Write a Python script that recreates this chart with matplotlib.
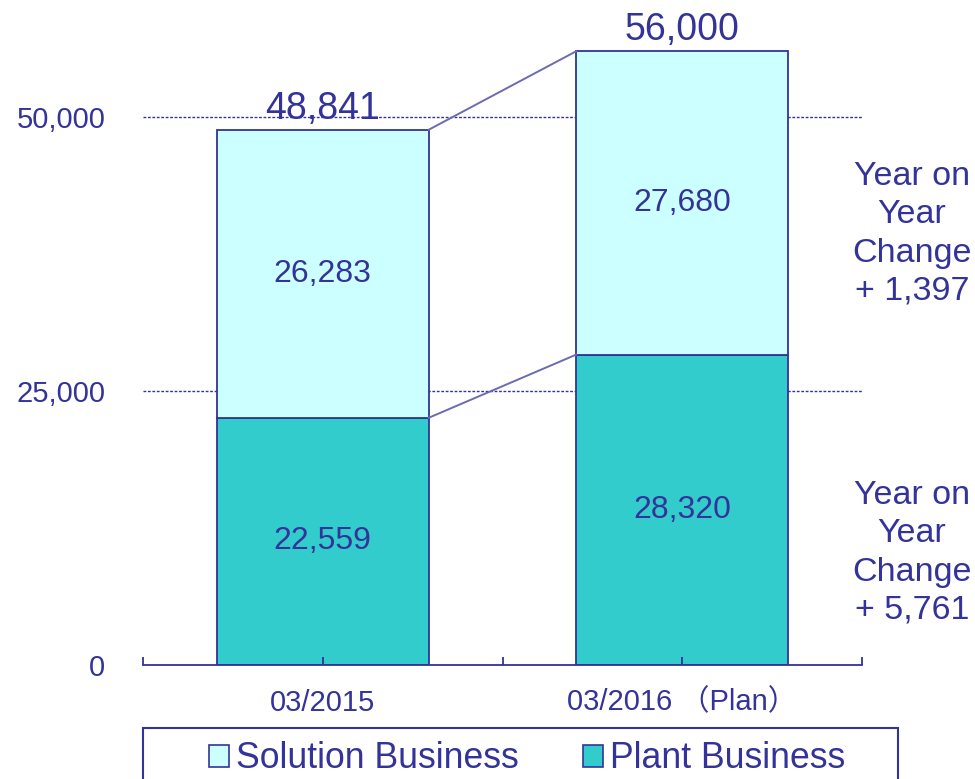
import matplotlib.pyplot as plt
from matplotlib.patches import Rectangle, Patch

categories = ['03/2015', '03/2016 （Plan）']
plant = [22559, 28320]
solution = [26283, 27680]
totals = [48841, 56000]
yoy_solution = '+ 1,397'
yoy_plant = '+ 5,761'

NAVY = '#333399'
PLANT_C = '#33CCCC'
SOL_C = '#CCFFFF'
LINE_C = '#6b6bb0'
FONT = ['Liberation Sans', 'Noto Sans CJK JP', 'DejaVu Sans']

plt.rcParams['font.family'] = FONT

fig = plt.figure(figsize=(9.75, 7.79), dpi=100)
ax = fig.add_axes([143 / 975, 1 - 665 / 779, (862 - 143) / 975, (665 - 7.4) / 779])
ax.set_axisbelow(False)

x = list(range(len(categories)))
w = 0.59

# grid lines behind bars
for gy in [25000, 50000]:
    ax.axhline(gy, color=NAVY, lw=1.0, ls=(0, (2, 1.2)), zorder=0)

ax.bar(x, plant, w, color=PLANT_C, edgecolor=NAVY, lw=1.3, zorder=2)
ax.bar(x, solution, w, bottom=plant, color=SOL_C, edgecolor=NAVY, lw=1.3, zorder=2)

# connecting lines between bars
ax.plot([x[0] + w / 2, x[1] - w / 2], [totals[0], totals[1]], color=LINE_C, lw=1.4, zorder=3)
ax.plot([x[0] + w / 2, x[1] - w / 2], [plant[0], plant[1]], color=LINE_C, lw=1.4, zorder=3)

for i in x:
    ax.text(i, plant[i] / 2, f'{plant[i]:,}', ha='center', va='center', fontsize=23, color=NAVY, zorder=4)
    ax.text(i, plant[i] + solution[i] / 2, f'{solution[i]:,}', ha='center', va='center', fontsize=23, color=NAVY, zorder=4)
    ax.annotate(f'{totals[i]:,}', (i, totals[i]), xytext=(0, 2), textcoords='offset points',
                ha='center', va='bottom', fontsize=27, color=NAVY)

ax.set_xlim(-0.5, 1.5)
ax.set_ylim(0, 60000)
ax.set_yticks([0, 25000, 50000])
ax.set_yticklabels(['0', '25,000', '50,000'])
ax.tick_params(axis='y', length=0, pad=27, labelsize=21, labelcolor=NAVY)
ax.set_xticks(x)
ax.set_xticklabels(categories)
ax.set_xticks([-0.5, 0.5, 1.5], minor=True)
ax.tick_params(axis='x', which='both', direction='in', length=6, width=1.3, color=NAVY,
               pad=17, labelsize=21, labelcolor=NAVY)

for s in ['top', 'right', 'left']:
    ax.spines[s].set_visible(False)
ax.spines['bottom'].set_color(NAVY)
ax.spines['bottom'].set_linewidth(1.3)
ax.patch.set_alpha(0)

# year on year change notes
fig.text(912 / 975, 1 - 234 / 779, 'Year on\nYear\nChange\n' + yoy_solution, ha='center', va='center',
         fontsize=24.5, color=NAVY, linespacing=1.3)
fig.text(912 / 975, 1 - 553 / 779, 'Year on\nYear\nChange\n' + yoy_plant, ha='center', va='center',
         fontsize=24.5, color=NAVY, linespacing=1.3)

# legend
handles = [Patch(facecolor=SOL_C, edgecolor=NAVY, lw=1.2), Patch(facecolor=PLANT_C, edgecolor=NAVY, lw=1.2)]
fig.legend(handles, ['Solution Business', 'Plant Business'], loc='center', ncol=2,
           bbox_to_anchor=(527 / 975, 1 - 759 / 779), frameon=False, fontsize=25.7,
           labelcolor=NAVY, handlelength=0.55, handleheight=0.55, handletextpad=0.2, columnspacing=1.8)
fig.patches.append(Rectangle((143 / 975, -0.05), (898 - 143) / 975, 0.05 + 1 - 728 / 779,
                             transform=fig.transFigure, fill=False, edgecolor=NAVY, lw=1.5))

fig.savefig('out.png', dpi=100)
